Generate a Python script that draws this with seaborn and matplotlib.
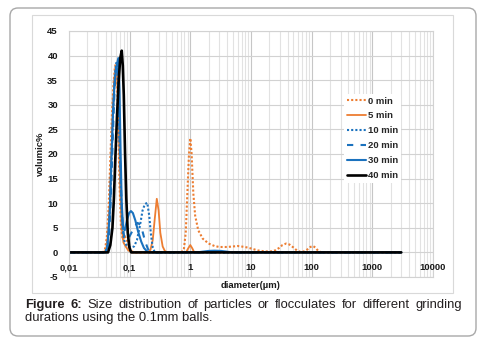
import numpy as np
import pandas as pd
import matplotlib
matplotlib.use("Agg")
import matplotlib.pyplot as plt
import seaborn as sns
from matplotlib.patches import FancyBboxPatch, Rectangle
from matplotlib.ticker import LogLocator
from matplotlib.transforms import IdentityTransform

# particle size distributions (diameter in um, volumic %)
d_0min = [0.01, 0.036, 0.039, 0.042, 0.045, 0.048, 0.051, 0.054, 0.057, 0.059,
          0.062, 0.065, 0.068, 0.072, 0.077, 0.083, 0.09, 0.1, 0.115, 0.7,
          0.78, 0.84, 0.9, 0.95, 1.0, 1.05, 1.12, 1.2, 1.35, 1.6,
          2.0, 2.5, 3.0, 4.0, 5.0, 6.0, 8.0, 10, 13, 17,
          21, 25, 29, 33, 38, 43, 50, 57, 65, 75,
          85, 95, 105, 115, 128, 145, 3000]
v_0min = [0, 0, 0.5, 3, 9, 19, 28, 34, 37.5, 38.3,
          34, 25, 14, 5, 2.5, 3.3, 2.5, 0.8, 0, 0,
          0.5, 4, 13, 20, 23.2, 20, 12, 7.5, 4.5, 2.8,
          1.8, 1.3, 1.1, 1.1, 1.2, 1.3, 1.1, 0.8, 0.4, 0.2,
          0.2, 0.4, 0.9, 1.5, 1.8, 1.6, 1.0, 0.4, 0.1, 0.2,
          0.6, 1.1, 1.3, 1.0, 0.3, 0, 0]

d_5min = [0.01, 0.038, 0.041, 0.044, 0.047, 0.05, 0.053, 0.056, 0.059, 0.061,
          0.064, 0.067, 0.07, 0.074, 0.079, 0.086, 0.095, 0.11, 0.2, 0.22,
          0.24, 0.26, 0.28, 0.3, 0.32, 0.35, 0.38, 0.42, 0.85, 0.92,
          1.0, 1.08, 1.16, 3000]
v_5min = [0, 0, 0.6, 3.5, 10, 20, 29, 35, 37.8, 37.5,
          32, 22, 12, 5, 2, 1.2, 0.4, 0, 0, 0.5,
          2.5, 7, 10.9, 8.5, 4, 1.2, 0.3, 0, 0, 0.8,
          1.5, 0.8, 0, 0]

d_10min = [0.01, 0.039, 0.042, 0.045, 0.048, 0.051, 0.054, 0.057, 0.06, 0.062,
           0.065, 0.068, 0.072, 0.076, 0.081, 0.088, 0.096, 0.105, 0.118, 0.132,
           0.148, 0.163, 0.178, 0.195, 0.21, 0.225, 0.24, 0.26, 3000]
v_10min = [0, 0, 0.8, 4, 11, 21, 30, 36, 38.5, 38.5,
           33, 23, 12, 5, 2.5, 1.5, 1.2, 1.0, 1.2, 2.5,
           5.5, 8.5, 9.8, 10.1, 7.5, 3.5, 1.0, 0, 0]

d_20min = [0.01, 0.04, 0.043, 0.046, 0.049, 0.052, 0.055, 0.058, 0.061, 0.063,
           0.066, 0.069, 0.073, 0.077, 0.082, 0.089, 0.097, 0.107, 0.12, 0.135,
           0.15, 0.165, 0.18, 0.2, 0.22, 0.24, 3000]
v_20min = [0, 0, 0.8, 4, 11, 21, 30, 36, 38.3, 38,
           32, 21, 11, 5, 3, 2.6, 3, 4, 5.2, 6,
           5.6, 4, 2.2, 0.7, 0.1, 0, 0]

d_30min = [0.01, 0.04, 0.043, 0.047, 0.05, 0.053, 0.056, 0.06, 0.065, 0.068,
           0.071, 0.074, 0.078, 0.083, 0.09, 0.098, 0.105, 0.113, 0.124, 0.138,
           0.155, 0.172, 0.19, 0.21, 1.3, 1.6, 2.0, 2.5, 3.2, 4.0,
           5.0, 3000]
v_30min = [0, 0, 1, 8, 19, 28, 34, 37.5, 39.5, 33,
           20, 10, 5, 4.5, 6.5, 8, 8.4, 8, 6.5, 4.2,
           2.2, 0.9, 0.3, 0, 0, 0.15, 0.3, 0.35, 0.3, 0.15,
           0, 0]

d_40min = [0.01, 0.044, 0.048, 0.052, 0.055, 0.058, 0.062, 0.066, 0.07, 0.074,
           0.077, 0.08, 0.084, 0.088, 0.093, 0.099, 0.106, 3000]
v_40min = [0, 0, 1.5, 5, 11, 19, 28, 35, 39.5, 41,
           38, 32, 20, 11, 4, 1, 0, 0]

series_labels = ["0 min", "5 min", "10 min", "20 min", "30 min", "40 min"]
x_tick_values = [0.01, 0.1, 1, 10, 100, 1000, 10000]
x_tick_labels = ["0,01", "0,1", "1", "10", "100", "1000", "10000"]
y_ticks = [-5, 0, 5, 10, 15, 20, 25, 30, 35, 40, 45]

ORANGE = "#ED7D31"
BLUE = "#1B72BE"
styles = {
    "0 min": dict(color=ORANGE, ls=(0, (1, 1)), lw=1.5),
    "5 min": dict(color=ORANGE, ls="-", lw=1.3),
    "10 min": dict(color=BLUE, ls=(0, (1, 1)), lw=1.5),
    "20 min": dict(color=BLUE, ls=(0, (3, 3.5)), lw=1.5),
    "30 min": dict(color=BLUE, ls="-", lw=1.5),
    "40 min": dict(color="black", ls="-", lw=1.9),
}

W, H = 482, 341
FONT = "Liberation Sans"

sns.set_style("white")
plt.rcParams["font.family"] = [FONT, "DejaVu Sans"]
plt.rcParams["axes.unicode_minus"] = False

df = pd.concat([
    pd.DataFrame({"diameter": d, "volume": v, "series": lab})
    for d, v, lab in zip([d_0min, d_5min, d_10min, d_20min, d_30min, d_40min],
                         [v_0min, v_5min, v_10min, v_20min, v_30min, v_40min],
                         series_labels)
])

fig = plt.figure(figsize=(W / 100, H / 100), dpi=100)
ax = fig.add_axes([69 / W, 1 - 277 / H, 364 / W, 246 / H])

# outer frame and chart area frame
fig.add_artist(FancyBboxPatch((10, H - 336), 466, 328,
                              boxstyle="round,pad=0,rounding_size=8",
                              transform=IdentityTransform(), fc="none",
                              ec="#A8A8A8", lw=1.0))
fig.add_artist(Rectangle((32, H - 293), 421, 278, transform=IdentityTransform(),
                         fc="none", ec="#D9D9D9", lw=0.8))

for lab in series_labels:
    sub = df[df["series"] == lab]
    st = styles[lab]
    sns.lineplot(data=sub, x="diameter", y="volume", ax=ax, sort=False,
                 estimator=None, color=st["color"], linestyle=st["ls"],
                 linewidth=st["lw"], label=lab)

ax.set_xscale("log")
ax.set_xlim(0.01, 10000)
ax.set_ylim(-5, 45)
ax.set_xticks(x_tick_values)
ax.xaxis.set_minor_locator(LogLocator(base=10, subs=np.arange(2, 10)))
ax.tick_params(axis="x", which="both", length=0, labelbottom=False)
ax.set_yticks(y_ticks)
ax.set_yticklabels([str(t) for t in y_ticks])
ax.tick_params(axis="y", length=0, pad=8, labelsize=6.8, labelcolor="#1a1a1a")
for t in ax.get_yticklabels():
    t.set_fontweight("bold")

ax.grid(which="major", axis="x", color="#C6C6C6", lw=0.8)
ax.grid(which="minor", axis="x", color="#E2E2E2", lw=0.8)
ax.grid(which="major", axis="y", color="#D2D2D2", lw=0.8)
ax.set_axisbelow(True)
for sp in ax.spines.values():
    sp.set_color("#D2D2D2")
    sp.set_linewidth(0.8)

for xv, lab in zip(x_tick_values, x_tick_labels):
    ax.text(xv, -3.1, lab, ha="center", va="center", fontsize=6.8,
            fontweight="bold", color="#1a1a1a", clip_on=False)

ax.set_xlabel("diameter(\u00b5m)", fontsize=6.8, fontweight="bold", color="#1a1a1a")
ax.xaxis.set_label_coords(0.5, -0.015)
ax.set_ylabel("volumic%", fontsize=6.8, fontweight="bold", color="#1a1a1a")
ax.yaxis.set_label_coords(-0.065, 0.5)

leg = ax.legend(loc="upper left", bbox_to_anchor=(0.755, 0.745), frameon=True,
                prop={"weight": "bold", "size": 6.8}, handlelength=2.1,
                handletextpad=0.15, labelspacing=0.62, borderpad=0.3,
                borderaxespad=0)
leg.get_frame().set_facecolor("white")
leg.get_frame().set_edgecolor("none")
leg.get_frame().set_alpha(1)

# caption, first line justified
words = [("Figure", True), ("6:", True), ("Size", False), ("distribution", False),
         ("of", False), ("particles", False), ("or", False), ("flocculates", False),
         ("for", False), ("different", False), ("grinding", False)]
cap_size = 9.4
texts = [fig.text(0, 1 - 305 / H, w, fontsize=cap_size,
                  fontweight="bold" if b else "normal", va="center", ha="left",
                  color="#231F20") for w, b in words]
fig.canvas.draw()
r = fig.canvas.get_renderer()
widths = [t.get_window_extent(renderer=r).width for t in texts]
gap = (462 - 25 - sum(widths)) / (len(texts) - 1)
x = 25
for t, w in zip(texts, widths):
    t.set_x(x / W)
    x += w + gap
fig.text(25 / W, 1 - 318 / H, "durations using the 0.1mm balls.", fontsize=cap_size,
         va="center", ha="left", color="#231F20")

fig.savefig("out.png", dpi=100)
